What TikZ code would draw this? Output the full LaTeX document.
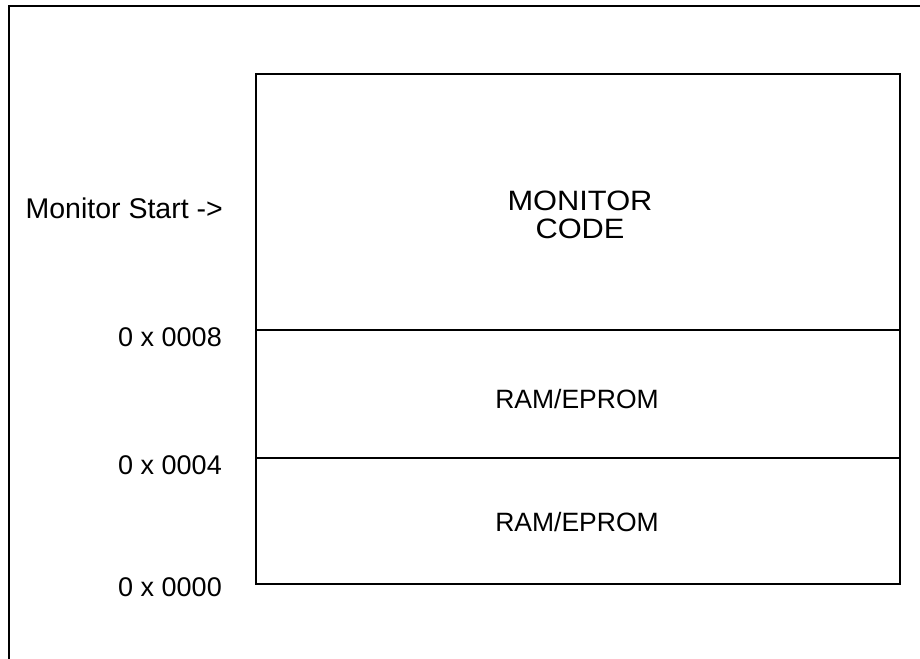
\documentclass[tikz,border=0pt]{standalone}
\usepackage{fontspec}
\setmainfont{Liberation Sans}
\newfontfamily\widesans[FakeStretch=1.1]{Liberation Sans}
\begin{document}
\begin{tikzpicture}[x=1pt,y=-1pt,
  frame/.style={draw=black,line width=1.3pt},
  addr/.style={anchor=base east,inner sep=0pt,font=\fontsize{27}{30}\selectfont},
  region/.style={anchor=base,inner sep=0pt,font=\fontsize{26.5}{30}\selectfont},
  bigtext/.style={anchor=base,inner sep=0pt,font=\widesans\fontsize{28}{30}\selectfont}]
\useasboundingbox (0,0) rectangle (920,658);
\clip (0,0) rectangle (920,658);
% outer frame (extends past the page)
\draw[frame] (9,6) rectangle (940,680);
% memory map box
\coordinate (tl) at (256,74);
\coordinate (br) at (900,584);
\draw[frame] (tl) rectangle (br);
\coordinate (d8l) at (256,330);
\coordinate (d8r) at (900,330);
\coordinate (d4l) at (256,458);
\coordinate (d4r) at (900,458);
\draw[frame] (d8l) -- (d8r);
\draw[frame] (d4l) -- (d4r);
% region texts
\node[bigtext] (mon) at (580,210) {MONITOR};
\node[bigtext] (code) at (580,238) {CODE};
\node[region] (ram1) at (577,408) {RAM/EPROM};
\node[region] (ram2) at (577,531) {RAM/EPROM};
% address labels
\node[addr,font=\fontsize{28.5}{30}\selectfont] (ms) at (223,218) {Monitor Start ->};
\node[addr] (a8) at (222,346) {0 x 0008};
\node[addr] (a4) at (222,474) {0 x 0004};
\node[addr] (a0) at (222,596) {0 x 0000};
\end{tikzpicture}
\end{document}
